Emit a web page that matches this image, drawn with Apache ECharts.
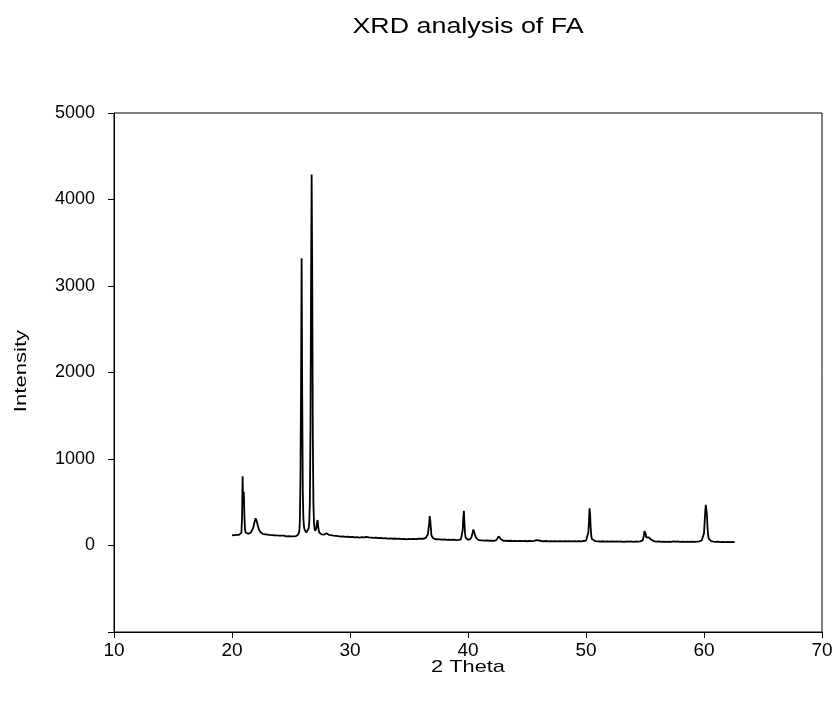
<!DOCTYPE html>
<html>
<head>
<meta charset="utf-8">
<script src="https://cdn.jsdelivr.net/npm/echarts@6/dist/echarts.min.js"></script>
<style>
html,body{margin:0;padding:0;background:#fff;}
#chart{width:836px;height:704px;}
</style>
</head>
<body>
<div id="chart"></div>
<script>
var chartTitle = 'XRD analysis of FA';
var xAxisName = '2 Theta';
var yAxisName = 'Intensity';
var xTicks = [10, 20, 30, 40, 50, 60, 70];
var yTicks = [-1000, 0, 1000, 2000, 3000, 4000, 5000];

// [2θ, intensity] pairs
var xrdPattern = [
[20.0,118],[20.1,125],[20.2,121],[20.3,130],[20.4,124],[20.5,128],[20.6,122],[20.7,132],[20.8,150],
[20.85,320],[20.9,800],[20.95,480],[21.0,620],[21.05,340],[21.1,190],[21.15,150],[21.2,138],[21.3,132],
[21.4,135],[21.5,142],[21.6,150],[21.7,170],[21.8,205],[21.9,265],[22.0,315],[22.05,305],[22.1,280],
[22.2,225],[22.3,180],[22.4,155],[22.5,142],[22.6,135],[22.7,128],[22.8,130],[22.9,122],[23.0,126],
[23.1,118],[23.2,122],[23.3,115],[23.4,120],[23.5,113],[23.6,118],[23.7,112],[23.8,116],[23.9,110],
[24.0,115],[24.1,109],[24.2,114],[24.3,108],[24.4,113],[24.5,110],[24.6,106],[24.7,112],[24.8,107],
[24.9,111],[25.0,105],[25.1,110],[25.2,106],[25.3,112],[25.4,108],[25.5,115],[25.6,125],[25.7,160],
[25.75,280],[25.8,750],[25.85,1800],[25.9,3320],[25.95,1750],[26.0,620],[26.05,310],[26.1,220],
[26.15,185],[26.2,165],[26.3,150],[26.4,160],[26.5,200],[26.55,280],[26.6,520],[26.65,1350],
[26.7,3050],[26.75,4290],[26.8,3100],[26.85,1250],[26.9,480],[26.95,260],[27.0,195],[27.05,170],
[27.1,165],[27.15,200],[27.2,260],[27.25,295],[27.3,230],[27.35,175],[27.4,150],[27.5,135],[27.6,128],
[27.7,122],[27.8,125],[27.9,132],[28.0,142],[28.1,135],[28.2,124],[28.3,118],[28.4,120],[28.5,112],
[28.6,115],[28.7,108],[28.8,112],[28.9,105],[29.0,108],[29.2,102],[29.4,106],[29.6,99],[29.8,103],
[30.0,96],[30.2,100],[30.4,94],[30.6,97],[30.8,92],[31.0,96],[31.2,94],[31.4,99],[31.6,95],[31.8,92],
[32.0,88],[32.2,91],[32.4,85],[32.6,88],[32.8,82],[33.0,85],[33.2,80],[33.4,83],[33.6,78],[33.8,81],
[34.0,76],[34.2,79],[34.4,74],[34.6,77],[34.8,72],[35.0,76],[35.2,73],[35.4,77],[35.6,74],[35.8,78],
[36.0,80],[36.2,78],[36.4,84],[36.5,90],[36.6,130],[36.7,250],[36.75,340],[36.8,300],[36.85,200],
[36.9,120],[37.0,90],[37.1,80],[37.2,75],[37.4,72],[37.6,70],[37.8,67],[38.0,70],[38.2,66],[38.4,68],
[38.6,64],[38.8,67],[39.0,63],[39.2,66],[39.4,70],[39.5,90],[39.55,180],[39.6,320],[39.65,400],
[39.7,260],[39.75,140],[39.8,90],[39.9,72],[40.0,65],[40.1,68],[40.2,75],[40.3,100],[40.4,150],
[40.45,185],[40.5,170],[40.6,120],[40.7,85],[40.8,68],[40.9,62],[41.0,58],[41.2,60],[41.4,56],
[41.6,59],[41.8,55],[42.0,57],[42.2,54],[42.4,62],[42.5,80],[42.6,105],[42.65,112],[42.7,100],
[42.8,72],[42.9,58],[43.0,54],[43.2,56],[43.4,52],[43.6,55],[43.8,51],[44.0,54],[44.2,50],[44.4,53],
[44.6,50],[44.8,52],[45.0,49],[45.2,52],[45.4,50],[45.6,54],[45.8,62],[45.9,68],[46.0,58],[46.2,52],
[46.4,49],[46.6,52],[46.8,48],[47.0,51],[47.2,48],[47.4,50],[47.6,47],[47.8,50],[48.0,47],[48.2,50],
[48.4,48],[48.6,51],[48.8,47],[49.0,50],[49.2,47],[49.4,50],[49.6,48],[49.8,52],[50.0,56],[50.1,70],
[50.2,150],[50.25,280],[50.3,430],[50.35,360],[50.4,200],[50.45,110],[50.5,75],[50.6,58],[50.8,50],
[51.0,48],[51.2,46],[51.4,49],[51.6,45],[51.8,48],[52.0,44],[52.2,47],[52.4,45],[52.6,48],[52.8,44],
[53.0,46],[53.2,43],[53.4,46],[53.6,44],[53.8,47],[54.0,43],[54.2,46],[54.4,44],[54.6,48],[54.8,60],
[54.9,110],[54.95,165],[55.0,180],[55.05,140],[55.1,95],[55.2,80],[55.3,95],[55.35,115],[55.4,100],
[55.5,70],[55.6,55],[55.8,48],[56.0,45],[56.2,47],[56.4,43],[56.6,46],[56.8,42],[57.0,45],[57.2,43],
[57.4,47],[57.6,44],[57.8,46],[58.0,42],[58.2,45],[58.4,42],[58.6,44],[58.8,41],[59.0,44],[59.2,42],
[59.4,45],[59.6,48],[59.8,58],[59.9,80],[60.0,140],[60.05,260],[60.1,380],[60.15,470],[60.2,490],
[60.25,350],[60.3,200],[60.35,120],[60.4,80],[60.5,60],[60.6,50],[60.8,45],[61.0,42],[61.2,44],
[61.4,40],[61.6,43],[61.8,40],[62.0,42],[62.2,39],[62.4,41],[62.6,40]
];

var font = 'Liberation Sans, Arial, sans-serif';
var chart = echarts.init(document.getElementById('chart'));
chart.setOption({
  animation: false,
  backgroundColor: '#fff',
  graphic: [
    {type: 'text', x: 468, y: 27, scaleX: 1.22, silent: true,
     style: {text: chartTitle, font: '22px ' + font, fill: '#000', textAlign: 'center', textVerticalAlign: 'middle'}},
    {type: 'text', x: 21, y: 371, rotation: Math.PI / 2, scaleX: 1.3, silent: true,
     style: {text: yAxisName, font: '17px ' + font, fill: '#000', textAlign: 'center', textVerticalAlign: 'middle'}},
    {type: 'text', x: 468, y: 667, scaleX: 1.28, silent: true,
     style: {text: xAxisName, font: '17px ' + font, fill: '#000', textAlign: 'center', textVerticalAlign: 'middle'}}
  ],
  grid: {left: 114, right: 14, top: 113, bottom: 72, show: true, borderColor: '#000', borderWidth: 1, backgroundColor: 'transparent'},
  xAxis: {
    type: 'value', min: xTicks[0], max: xTicks[xTicks.length - 1], interval: 10,
    axisLine: {show: true, onZero: false, lineStyle: {color: '#000', width: 1}},
    axisTick: {show: true, inside: false, length: 6, lineStyle: {color: '#000'}},
    axisLabel: {fontFamily: font, fontSize: 19, color: '#000', margin: 9},
    splitLine: {show: false}
  },
  yAxis: {
    type: 'value', min: yTicks[0], max: yTicks[yTicks.length - 1], interval: 1000,
    axisLine: {show: true, lineStyle: {color: '#000', width: 1}},
    axisTick: {show: true, inside: false, length: 6, lineStyle: {color: '#000'}},
    axisLabel: {fontFamily: font, fontSize: 18, color: '#000', margin: 19,
      formatter: function (v) { return v < 0 ? '' : String(v); }},
    splitLine: {show: false}
  },
  series: [{
    type: 'line', data: xrdPattern, showSymbol: false, symbol: 'none',
    lineStyle: {color: '#000', width: 1.8}
  }]
});
</script>
</body>
</html>
